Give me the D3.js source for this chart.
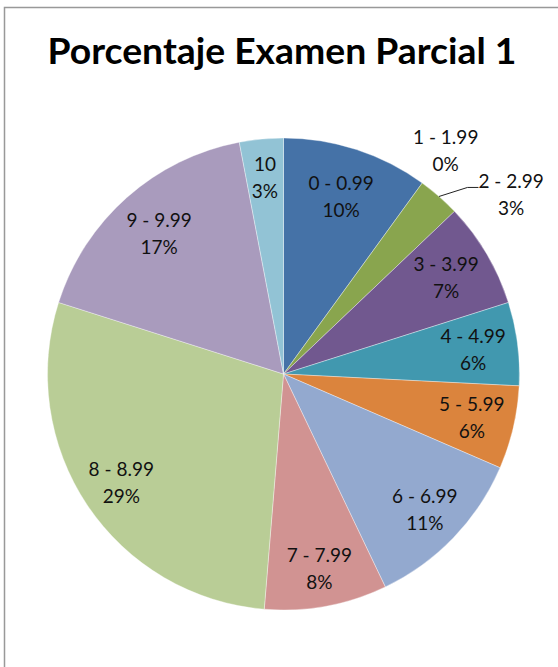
<!DOCTYPE html>
<html>
<head>
<meta charset="utf-8">
<script src="https://cdn.jsdelivr.net/npm/d3@7"></script>
<style>
  html, body { margin: 0; padding: 0; background: #fff; }
  svg { display: block; }
</style>
</head>
<body>
<svg id="chart" width="558" height="667"></svg>
<script>
const title = "Porcentaje Examen Parcial 1";
const categories = ["0 - 0.99", "1 - 1.99", "2 - 2.99", "3 - 3.99", "4 - 4.99", "5 - 5.99", "6 - 6.99", "7 - 7.99", "8 - 8.99", "9 - 9.99", "10"];
const values = [10.0, 0, 2.9, 7.2, 5.7, 5.7, 11.4, 8.4, 28.6, 17.1, 3.0];
const colors = ["#4572A7", "#AA4643", "#89A54E", "#71588F", "#4198AF", "#DB843D", "#93A9CF", "#D19392", "#B9CD96", "#A99BBD", "#92C3D5"];
const outsideLabels = ["1 - 1.99", "2 - 2.99"];

const svg = d3.select("#chart");
const W = 558, H = 667;
const cx = 283.5, cy = 374, R = 236;
const fontFam = "Lato, 'Open Sans', 'DejaVu Sans', sans-serif";

// chart area border
svg.append("rect")
  .attr("x", 4.5).attr("y", 7.5)
  .attr("width", W + 20).attr("height", H + 20)
  .attr("fill", "#fff")
  .attr("stroke", "#999").attr("stroke-width", 1.5);

// title
svg.append("text")
  .attr("x", 282).attr("y", 64)
  .attr("text-anchor", "middle")
  .attr("font-family", fontFam)
  .attr("font-weight", "bold")
  .attr("font-size", 36)
  .attr("fill", "#000")
  .attr("textLength", 469)
  .attr("lengthAdjust", "spacingAndGlyphs")
  .text(title);

const data = categories.map((c, i) => ({ cat: c, value: values[i], color: colors[i] }));
const total = d3.sum(values);
const pie = d3.pie().sort(null).value(d => d.value).startAngle(0).endAngle(2 * Math.PI);
const arcs = pie(data);
const arc = d3.arc().innerRadius(0).outerRadius(R);

const g = svg.append("g").attr("transform", `translate(${cx},${cy})`);

g.selectAll("path.slice")
  .data(arcs.filter(a => a.endAngle > a.startAngle))
  .join("path")
  .attr("class", "slice")
  .attr("d", arc)
  .attr("fill", d => d.data.color)
  .attr("stroke", "#ffffff")
  .attr("stroke-opacity", 0.6)
  .attr("stroke-width", 0.6);

const pct = d => Math.round(d.data.value / total * 100) + "%";
const lineGap = 27;
const fs = 19;
const dig = 6.8; // half digit height

function polar(r, a) { return [r * Math.sin(a), -r * Math.cos(a)]; }

function twoLine(x, y, a) {
  const t = g.append("text")
    .attr("text-anchor", "middle")
    .attr("font-family", fontFam)
    .attr("font-size", fs)
    .attr("fill", "#111");
  t.append("tspan").attr("x", x).attr("y", y - lineGap / 2 + dig).text(a.data.cat);
  t.append("tspan").attr("x", x).attr("y", y + lineGap / 2 + dig).text(pct(a));
  return t;
}

arcs.forEach(a => {
  const mid = (a.startAngle + a.endAngle) / 2;
  const span = a.endAngle - a.startAngle;
  const outside = outsideLabels.includes(a.data.cat);
  if (!outside) {
    // best-fit style radius: a bit further out towards the bottom, further out for very thin slices
    let r = 186 + 12 * (1 - Math.cos(mid)) / 2;
    if (span < 0.25) r = 197;
    const [x, y] = polar(r, mid);
    twoLine(x, y, a);
  } else if (a.data.value === 0) {
    const [x, y] = polar(276, mid);
    twoLine(x, y, a);
  } else {
    // leader line label
    const p0 = polar(R, mid);
    const p1 = polar(262, mid + 0.059);
    const p2 = [p1[0] + 11, p1[1]];
    g.append("path")
      .attr("d", d3.line()([p0, p1, p2]))
      .attr("fill", "none")
      .attr("stroke", "#222")
      .attr("stroke-width", 1);
    const lx = p2[0];
    const t = g.append("text")
      .attr("font-family", fontFam)
      .attr("font-size", fs)
      .attr("fill", "#111");
    const l1 = t.append("tspan").attr("x", lx).attr("y", p2[1] + 0.5).text(a.data.cat);
    const w = l1.node().getComputedTextLength();
    t.append("tspan").attr("x", lx + w / 2).attr("text-anchor", "middle")
      .attr("y", p2[1] + 0.5 + lineGap).text(pct(a));
  }
});
</script>
</body>
</html>
